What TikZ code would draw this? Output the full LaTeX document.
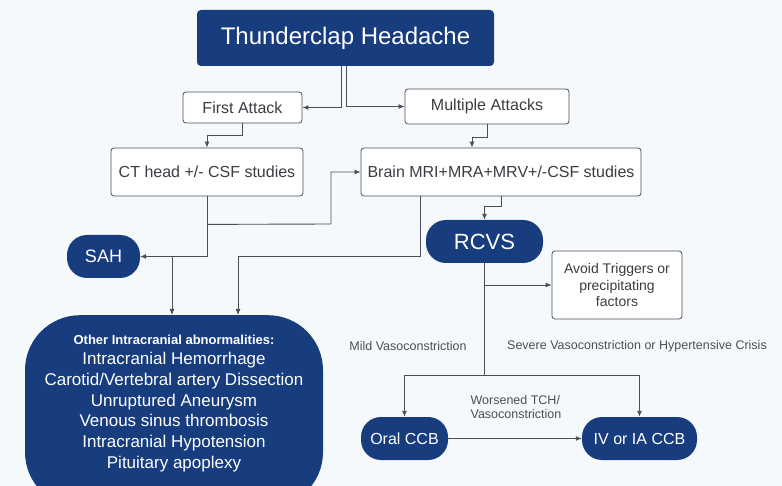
\documentclass[tikz,border=0pt]{standalone}
\usepackage{fontspec}
\setmainfont{Liberation Sans}
\usepackage{xcolor}
\usetikzlibrary{calc}
\usetikzlibrary{arrows.meta}
\usetikzlibrary{positioning}
\definecolor{navy}{HTML}{173D7E}
\definecolor{edge}{HTML}{4A4F57}
\definecolor{ink}{HTML}{3A3D42}
\definecolor{paper}{HTML}{F6F9FB}

\begin{document}
\begin{tikzpicture}[x=1pt,y=-1pt,
    darkbox/.style={fill=navy,text=white,rounded corners=4pt,inner sep=0pt,align=center},
    pill/.style={darkbox,rounded corners=20pt,minimum height=43pt},
    lightbox/.style={draw=edge,line width=0.8pt,fill=white,text=ink,rounded corners=3pt,inner sep=0pt,align=center,font=\fontsize{16}{19}\selectfont},
    conn/.style={draw=edge,line width=0.9pt,-{Latex[length=6pt,width=5pt]}},
    note/.style={text=edge,font=\fontsize{12.5}{14.5}\selectfont}]
    \useasboundingbox (0,0) rectangle (782,486);
    \fill[paper] (0,0) rectangle (782,486);
    \clip (0,0) rectangle (782,486);

    \node[darkbox,minimum width=297pt,minimum height=56pt,font=\fontsize{24}{28}\selectfont] (thunder) at (345.5,38) {Thunderclap Headache};
    \node[lightbox,minimum width=119pt,minimum height=31pt] (first) at (242.5,107.5) {First Attack};
    \node[lightbox,minimum width=164pt,minimum height=35pt] (multi) at (487,106.5) {Multiple Attacks};
    \node[lightbox,minimum width=192pt,minimum height=48pt] (ct) at (207,172) {CT head +/- CSF studies};
    \node[lightbox,minimum width=280pt,minimum height=48pt] (brain) at (501,172) {Brain MRI+MRA+MRV+/-CSF studies};
    \node[pill,minimum width=117pt,font=\fontsize{22}{26}\selectfont] (rcvs) at (484.5,241.5) {RCVS};
    \node[pill,minimum width=73pt,font=\fontsize{18}{21}\selectfont] (sah) at (103.5,256.5) {SAH};
    \node[lightbox,minimum width=130pt,minimum height=68pt,font=\fontsize{14}{16.5}\selectfont] (avoid) at (617,285) {Avoid Triggers or\\precipitating\\factors};
    \node[pill,minimum width=87pt,font=\fontsize{16}{19}\selectfont] (oral) at (404.5,438.5) {Oral CCB};
    \node[pill,minimum width=115pt,font=\fontsize{16}{19}\selectfont] (ivia) at (639.5,438.5) {IV or IA CCB};

    % big list box runs off the bottom edge
    \node[darkbox,rounded corners=55pt,minimum width=298pt,minimum height=192pt,anchor=north] (other) at (174,315) {};
    \node[text=white,font=\bfseries\fontsize{13}{15}\selectfont] (othertitle) at (174,340) {Other Intracranial abnormalities:};
    \node[text=white,align=center,font=\fontsize{17}{20.7}\selectfont] (otherlist) at (174,412) {
        Intracranial Hemorrhage\\
        Carotid/Vertebral artery Dissection\\
        Unruptured Aneurysm\\
        Venous sinus thrombosis\\
        Intracranial Hypotension\\
        Pituitary apoplexy};

    \node[note] (mild) at (408,346) {Mild Vasoconstriction};
    \node[note] (severe) at (637,346) {Severe Vasoconstriction or Hypertensive Crisis};
    \node[note,align=left] (worse) at (516,407) {Worsened TCH/\\Vasoconstriction};

    \coordinate (ctjoin) at ($(ct.south)+(0,28)$);
    \coordinate (bend) at (331,224);
    \coordinate (sahjoin) at (172,256.5);
    \coordinate (brainjoin) at (238,256.5);
    \coordinate (split) at ($(rcvs.south)+(0,112)$);

\draw [conn] ([xshift=-4.5pt]thunder.south) |- (first.east);
\draw [conn] ([xshift=0.5pt]thunder.south) |- (multi.west);
\draw [conn] (first.south) -- ++(0,12) -| (ct.north);
\draw [conn] (multi.south) -- ++(0,13) -| ([xshift=-29pt]brain.north);
\draw [conn] (ct.south) |- (sah.east);
\draw [conn] (ctjoin) -- (bend) |- (brain.west);
\draw [conn] (sahjoin) -- (sahjoin |- other.north);
\draw [conn] ([xshift=-81pt]brain.south) |- (brainjoin) -- (brainjoin |- other.north);
\draw [conn] (brain.south) -- ++(0,10) -| (rcvs.north);
\draw [conn] (rcvs.south) |- (avoid.west);
\draw [conn] (rcvs.south) -- (split) -| (oral.north);
\draw [conn] (split) -| (ivia.north);
\draw [conn] (oral) -- (ivia);
\end{tikzpicture}
\end{document}
